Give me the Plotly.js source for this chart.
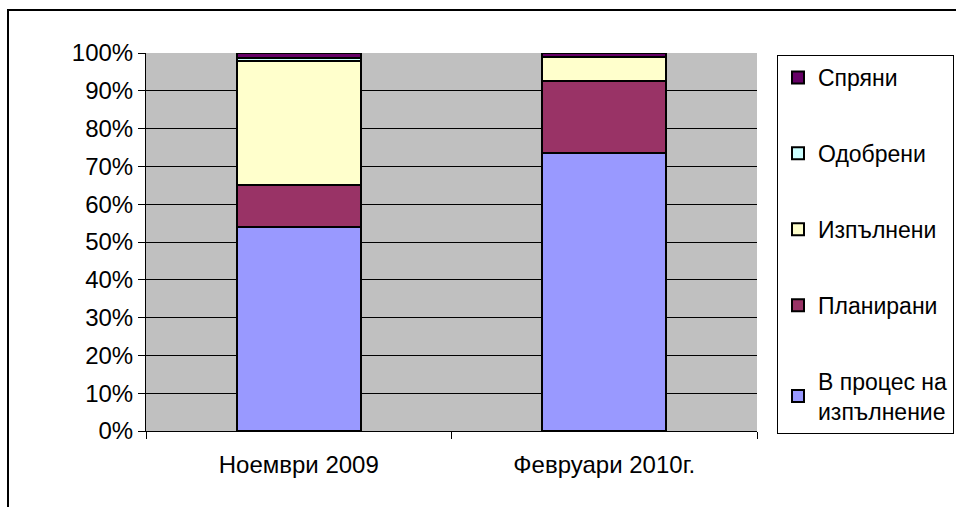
<!DOCTYPE html>
<html><head><meta charset="utf-8">
<script src="https://cdn.plot.ly/plotly-3.0.1.min.js"></script>
<style>body{margin:0;background:#fff}#chart{width:956px;height:507px}</style>
</head><body><div id="chart"></div>
<script>
const categories = ["Ноември 2009", "Февруари 2010г."];
const seriesNames = ["В процес на<br>изпълнение", "Планирани", "Изпълнени", "Одобрени", "Спряни"];
const vInProgress = [54.0, 73.5];
const vPlanned = [11.0, 19.1];
const vDone = [33.0, 6.4];
const vApproved = [0.8, 0.0];
const vStopped = [1.2, 1.0];
const colors = ["#9999FF", "#993366", "#FFFFCC", "#CCFFFF", "#660066"];
const yTicks = [0,10,20,30,40,50,60,70,80,90,100];
const yTickText = yTicks.map(v => v + "%");

const allVals = [vInProgress, vPlanned, vDone, vApproved, vStopped];
const traces = allVals.map((vals, i) => ({
  type: "bar", x: categories, y: vals, name: seriesNames[i],
  legendgroup: "g" + i, legendrank: (5 - i) * 100,
  marker: {color: colors[i], line: {color: "#000", width: 2}},
  width: 0.405, hoverinfo: "skip"
}));

const F = "Liberation Sans, Arial, sans-serif";
const layout = {
  width: 956, height: 507,
  margin: {l: 146, r: 199, t: 53, b: 76},
  barmode: "stack",
  paper_bgcolor: "#fff", plot_bgcolor: "#C0C0C0",
  font: {family: F, size: 24, color: "#000"},
  showlegend: true,
  legend: {xref: "container", yref: "container", x: 777/956, y: 1 - 55/507,
    xanchor: "left", yanchor: "top", maxheight: 480,
    traceorder: "grouped", tracegroupgap: 43,
    bordercolor: "#000", borderwidth: 1, bgcolor: "#fff",
    font: {family: F, size: 23, color: "#000"}},
  xaxis: {type: "category", tickson: "boundaries", ticks: "outside", ticklen: 7,
    tickcolor: "#000", showline: true, linecolor: "#000", linewidth: 1,
    showgrid: false, tickfont: {size: 24}, ticklabelstandoff: 12},
  yaxis: {range: [0, 100], tickvals: yTicks, ticktext: yTickText,
    ticks: "outside", ticklen: 7, tickcolor: "#000",
    showline: true, linecolor: "#000", linewidth: 1,
    showgrid: true, gridcolor: "#000", gridwidth: 1, zeroline: false,
    tickfont: {size: 24}},
  shapes: [{type: "rect", xref: "paper", yref: "paper",
    x0: (8-146)/611, x1: (975-146)/611, y0: (431-520)/378, y1: (431-10)/378,
    line: {color: "#000", width: 2}, fillcolor: "rgba(0,0,0,0)", layer: "below"}]
};
Plotly.newPlot("chart", traces, layout, {displayModeBar: false, staticPlot: true});
</script></body></html>
